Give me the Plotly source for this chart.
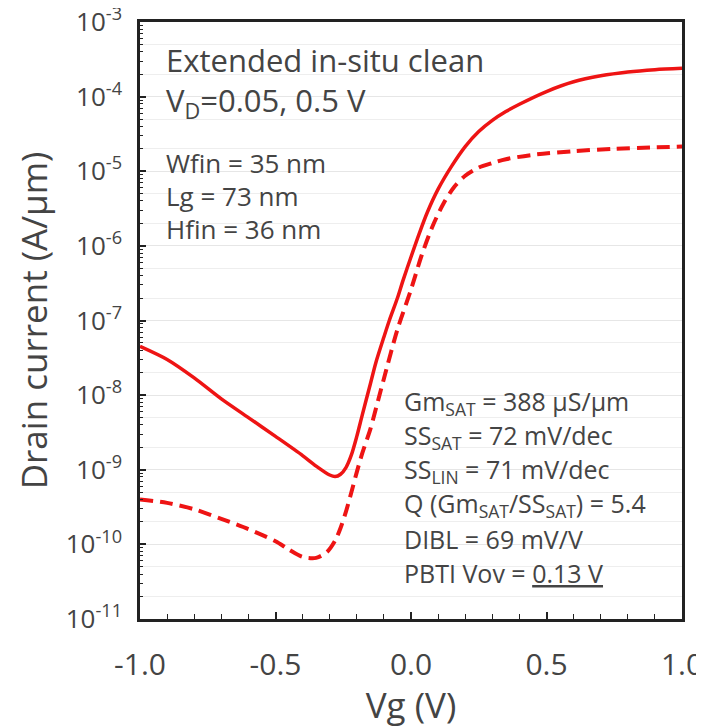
import plotly.graph_objects as go

# ---- data ----
vg_sat = [-1.0, -0.9, -0.8, -0.7, -0.6, -0.5, -0.4, -0.35, -0.3, -0.28, -0.26, -0.24,
          -0.22, -0.2, -0.18, -0.15, -0.13, -0.1, -0.08, -0.05, -0.03, 0.0, 0.03, 0.06,
          0.1, 0.15, 0.2, 0.25, 0.3, 0.35, 0.4, 0.5, 0.6, 0.7, 0.8, 0.9, 1.0]
id_sat = [4.5e-8, 3.0e-8, 1.7e-8, 8.9e-9, 5.0e-9, 2.8e-9, 1.55e-9, 1.12e-9, 8.5e-10,
          8.1e-10, 8.7e-10, 1.07e-9, 1.58e-9, 2.8e-9, 5.4e-9, 1.41e-8, 2.7e-8, 6.0e-8,
          1.0e-7, 2.0e-7, 3.4e-7, 7.1e-7, 1.45e-6, 2.8e-6, 5.75e-6, 1.17e-5, 2.14e-5, 3.4e-5,
          4.8e-5, 6.3e-5, 7.9e-5, 1.17e-4, 1.58e-4, 1.9e-4, 2.14e-4, 2.3e-4, 2.4e-4]

vg_lin = [-1.0, -0.9, -0.8, -0.7, -0.6, -0.5, -0.45, -0.4, -0.35, -0.31, -0.28, -0.26,
          -0.24, -0.22, -0.2, -0.18, -0.15, -0.12, -0.1, -0.05, 0.0, 0.04, 0.08, 0.12,
          0.16, 0.2, 0.25, 0.3, 0.35, 0.45, 0.6, 0.75, 0.9, 1.0]
id_lin = [4.0e-10, 3.6e-10, 2.95e-10, 2.2e-10, 1.6e-10, 1.1e-10, 8.5e-11, 6.8e-11,
          6.6e-11, 7.9e-11, 1.12e-10, 1.66e-10, 2.75e-10, 5.0e-10, 9.3e-10, 1.66e-9,
          3.5e-9, 8.9e-9, 1.66e-8, 7.6e-8, 2.6e-7, 7.6e-7, 1.85e-6, 3.7e-6, 6.2e-6,
          8.7e-6, 1.12e-5, 1.29e-5, 1.45e-5, 1.66e-5, 1.86e-5, 2.0e-5, 2.09e-5, 2.14e-5]

y_exponents = [-11, -10, -9, -8, -7, -6, -5, -4, -3]
x_tickvals = [-1.0, -0.5, 0.0, 0.5, 1.0]
x_ticktext = ["-1.0", "-0.5", "0.0", "0.5", "1.0"]

left_notes = ["Wfin = 35 nm", "Lg = 73 nm", "Hfin = 36 nm"]
right_notes = [
    "Gm<sub>SAT</sub> = 388 \u03bcS/\u03bcm",
    "SS<sub>SAT</sub> = 72 mV/dec",
    "SS<sub>LIN</sub> = 71 mV/dec",
    "Q (Gm<sub>SAT</sub>/SS<sub>SAT</sub>) = 5.4",
    "DIBL = 69 mV/V",
    "PBTI Vov = <u>0.13 V</u>",
]

FONT = "Open Sans"
TXT = "#444444"
RED = "#ee1414"

y_tickvals = [10.0 ** e for e in y_exponents]
y_ticktext = ["10<sup>%d</sup>" % e for e in y_exponents]
grid_minor_vals = [m * 10.0 ** e for e in y_exponents[:-1] for m in (2, 5)]

fig = go.Figure()
fig.add_trace(go.Scatter(x=vg_sat, y=id_sat, mode="lines",
                         line=dict(color=RED, width=3.5, shape="spline", smoothing=0.8),
                         showlegend=False))
fig.add_trace(go.Scatter(x=vg_lin, y=id_lin, mode="lines",
                         line=dict(color=RED, width=4, dash="13px,7px", shape="spline", smoothing=0.8),
                         showlegend=False))
# invisible trace to carry the overlay grid axis
fig.add_trace(go.Scatter(x=[vg_lin[0]], y=[id_lin[0]], yaxis="y2", mode="markers",
                         marker=dict(opacity=0), showlegend=False, hoverinfo="skip"))

# the page body keeps its default 8 px margin, so the figure is sized to fit inside it
fig.update_layout(
    width=696, height=720,
    margin=dict(l=132, r=22, t=14, b=109),
    paper_bgcolor="white", plot_bgcolor="white",
    font=dict(family=FONT, color=TXT),
    xaxis=dict(
        range=[-1.0, 1.0], tickvals=x_tickvals, ticktext=x_ticktext,
        automargin=False, ticklabeloverflow="allow",
        ticks="inside", ticklen=7, tickwidth=1.5, tickcolor="#222",
        minor=dict(dtick=0.1, ticks="inside", ticklen=5, tickwidth=1.2, tickcolor="#222"),
        showgrid=False, zeroline=False,
        showline=True, linecolor="#222", linewidth=2.5, mirror=True,
        tickfont=dict(size=30, color=TXT, family=FONT),
        ticklabelstandoff=17,
        title=dict(text="Vg (V)", font=dict(size=35, color=TXT, family=FONT), standoff=0),
    ),
    yaxis=dict(
        type="log", range=[-11, -3],
        tickvals=y_tickvals, ticktext=y_ticktext,
        automargin=False, ticklabeloverflow="allow",
        ticks="inside", ticklen=6, tickwidth=1.5, tickcolor="#222",
        minor=dict(dtick="D1", ticks="inside", ticklen=3, tickwidth=1, tickcolor="#222", showgrid=False),
        showgrid=True, gridcolor="#e6e6e6", gridwidth=1,
        zeroline=False,
        showline=True, linecolor="#222", linewidth=2.5, mirror=True,
        tickfont=dict(size=26, color=TXT, family=FONT),
        ticklabelstandoff=10,
        title=dict(text="Drain current (A/\u03bcm)", font=dict(size=35, color=TXT, family=FONT), standoff=8),
    ),
    yaxis2=dict(
        type="log", range=[-11, -3], overlaying="y", side="left", automargin=False,
        tickvals=grid_minor_vals, showticklabels=False, ticks="",
        showgrid=True, gridcolor="#eeeeee", gridwidth=1, showline=False, zeroline=False,
    ),
)

ann = []
ann.append(dict(text="Extended in-situ clean", x=0.044, y=0.936, xref="paper", yref="paper",
                xanchor="left", yanchor="middle", showarrow=False,
                font=dict(size=31, color=TXT, family=FONT)))
ann.append(dict(text="V<sub>D</sub>=0.05, 0.5 V", x=0.044, y=0.866, xref="paper", yref="paper",
                xanchor="left", yanchor="middle", showarrow=False,
                font=dict(size=31, color=TXT, family=FONT)))
for i, t in enumerate(left_notes):
    ann.append(dict(text=t, x=0.044, y=0.764 - i * 0.0555, xref="paper", yref="paper",
                    xanchor="left", yanchor="middle", showarrow=False,
                    font=dict(size=26, color=TXT, family=FONT)))
for i, t in enumerate(right_notes):
    ann.append(dict(text=t, x=0.484, y=0.362 - i * 0.057, xref="paper", yref="paper",
                    xanchor="left", yanchor="middle", showarrow=False,
                    font=dict(size=25, color=TXT, family=FONT)))
fig.update_layout(annotations=ann)

fig.write_html("out.html")
